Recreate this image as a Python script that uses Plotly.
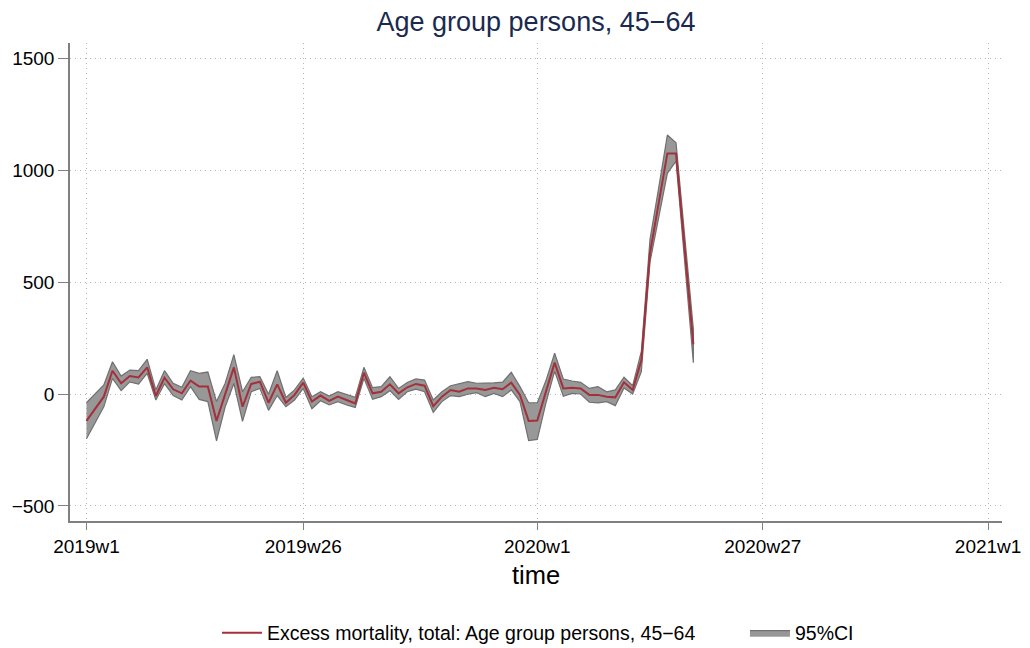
import plotly.graph_objects as go

# week index 0 = 2019w1 (52 weeks per year)
tick_pos = [0, 25, 52, 78, 104]
tick_labels = ["2019w1", "2019w26", "2020w1", "2020w27", "2021w1"]
y_ticks = [-500, 0, 500, 1000, 1500]
y_tick_labels = ["\u2212500", "0", "500", "1000", "1500"]

estimate = [-120, -64, -12, 104, 48, 80, 74, 119, -9, 73, 21, 3, 60, 33, 33, -120, 0, 119,
            -57, 45, 55, -39, 43, -39, -4, 51, -34, -7, -31, -12, -27, -42, 95, 3, 10, 43,
            3, 30, 45, 37, -54, -12, 18, 10, 25, 25, 18, 28, 21, 51, -4, -120, -118, 12,
            140, 25, 28, 25, -4, -4, -12, -15, 52, 18, 150, 630, 850, 1074, 1074, 650, 222]
upper = [-39, 1, 40, 144, 80, 107, 104, 155, 18, 104, 48, 30, 104, 92, 98, -34, 48, 176,
         10, 74, 77, -1, 104, -15, 18, 71, -12, 10, -9, 10, -4, -15, 119, 28, 33, 77,
         25, 51, 67, 62, -27, 10, 37, 45, 55, 48, 48, 50, 53, 97, 33, -39, -39, 60,
         182, 67, 58, 52, 25, 33, 10, 18, 75, 37, 190, 690, 920, 1156, 1122, 690, 290]
lower = [-200, -130, -57, 70, 15, 54, 44, 92, -27, 46, -7, -27, 33, -24, -34, -209, -57, 47,
         -122, 10, 25, -73, -7, -57, -27, 25, -66, -30, -49, -34, -49, -60, 70, -24, -12, 15,
         -24, 10, 22, 10, -82, -34, -7, -12, -1, 6, -12, 3, -12, 18, -34, -208, -203, -40,
         102, -10, 3, 0, -37, -40, -34, -52, 27, 0, 100, 590, 780, 985, 1040, 610, 140]

weeks = list(range(len(estimate)))

FONT = "Liberation Sans, Arial, Helvetica, sans-serif"
RED = "#a3303a"

fig = go.Figure()
fig.add_trace(go.Scatter(
    x=weeks + weeks[::-1],
    y=upper + lower[::-1],
    fill="toself",
    fillcolor="#989898",
    line=dict(color="#707070", width=1.2),
    mode="lines",
    name="95%CI",
    legend="legend2",
    hoverinfo="skip",
))
fig.add_trace(go.Scatter(
    x=weeks, y=estimate,
    mode="lines",
    line=dict(color=RED, width=2),
    name="Excess mortality, total: Age group persons, 45\u221264",
    legend="legend",
))

legend_common = dict(orientation="h", yanchor="middle", y=-0.2343, xanchor="left",
                     font=dict(family=FONT, size=19.5, color="black"),
                     itemwidth=40, bgcolor="rgba(0,0,0,0)", borderwidth=0)

fig.update_layout(
    width=1030, height=648,
    paper_bgcolor="white", plot_bgcolor="white",
    margin=dict(l=70, r=28, t=43, b=127, autoexpand=False),
    font=dict(family=FONT, size=19, color="black"),
    title=dict(text="Age group persons, 45\u221264", x=0.5, xref="paper", xanchor="center",
               y=0.966, yanchor="middle",
               font=dict(family=FONT, size=27, color="#1a2a4f")),
    showlegend=True,
    legend=dict(x=0.1577, **legend_common),
    legend2=dict(x=0.7242, **legend_common),
)

fig.update_xaxes(
    range=[-1.9, 105.6], automargin=False,
    tickmode="array", tickvals=tick_pos, ticktext=tick_labels,
    ticks="outside", ticklen=7, tickcolor="#808080", tickwidth=1.3,
    showline=True, linecolor="#808080", linewidth=1.5,
    showgrid=True, gridcolor="#b4b4b4", griddash="1px,4px", gridwidth=1,
    zeroline=False,
    tickfont=dict(family=FONT, size=19, color="black"),
    title=dict(text="time", font=dict(family=FONT, size=25.5, color="black"), standoff=11),
)
fig.update_yaxes(
    range=[-567, 1567], automargin=False,
    tickmode="array", tickvals=y_ticks, ticktext=y_tick_labels,
    ticks="outside", ticklen=10, tickcolor="#808080", tickwidth=1.3,
    showline=True, linecolor="#808080", linewidth=1.5,
    showgrid=True, gridcolor="#b4b4b4", griddash="1px,4px", gridwidth=1,
    zeroline=False,
    tickfont=dict(family=FONT, size=19, color="black"),
)

fig.write_html("out.html",
               config={"displayModeBar": False},
               post_script="document.body.style.margin='0';document.body.style.padding='0';")
